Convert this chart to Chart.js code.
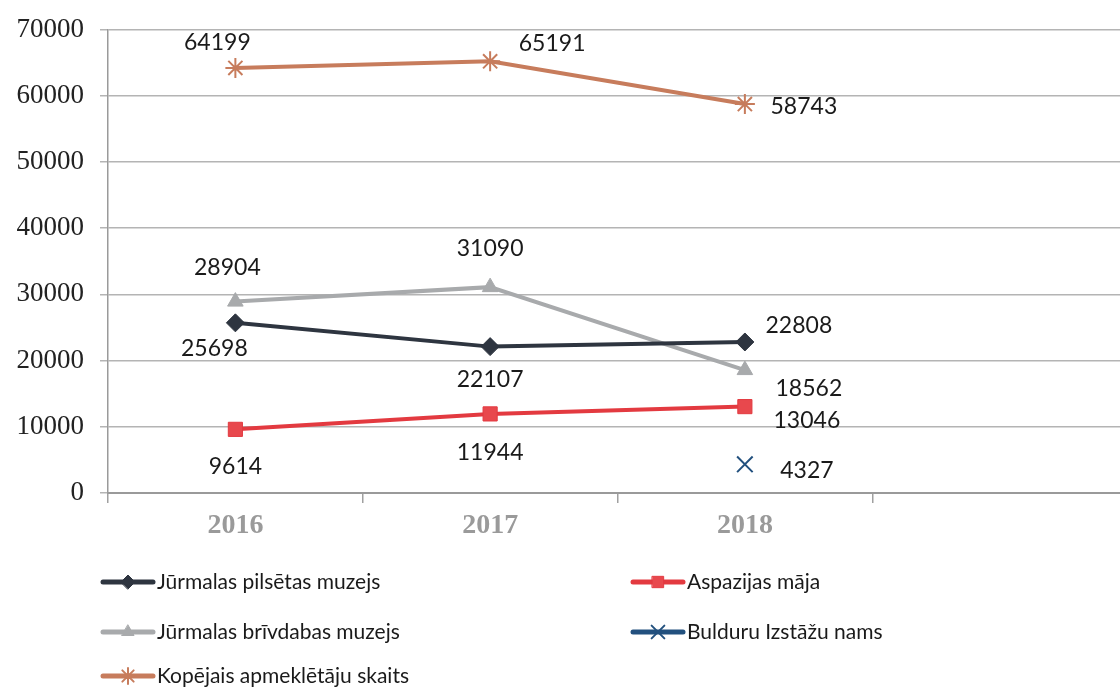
<!DOCTYPE html>
<html>
<head>
<meta charset="utf-8">
<script src="https://cdn.jsdelivr.net/npm/chart.js@4.4.1/dist/chart.umd.min.js"></script>
<style>
  html, body { margin: 0; padding: 0; background: #fff; overflow: hidden; }
  #wrap { width: 1140px; height: 688px; position: relative; }
  canvas { display: block; }
</style>
</head>
<body>
<div id="wrap"><canvas id="chart"></canvas></div>
<script>
// data
const years = ['2016', '2017', '2018', ''];
const pilsetasMuzejs = [25698, 22107, 22808];
const aspazijasMaja = [9614, 11944, 13046];
const brivdabasMuzejs = [28904, 31090, 18562];
const bulduruNams = [null, null, 4327];
const kopejais = [64199, 65191, 58743];
const yTicks = [0, 10000, 20000, 30000, 40000, 50000, 60000, 70000];

// label offsets (px from point) per dataset
const labelOffsets = [
    [[-21, 26], [0, 33], [54, -16]],
    [[0, 37], [0, 39], [62, 14]],
    [[-8, -34], [0, -39], [64, 18]],
    [[0, 0], [0, 0], [62, 6]],
    [[-18, -25], [62, -18], [59, 3]]
];

const labelFont = '23px Lato, "Open Sans", sans-serif';

// value labels next to points
const valueLabels = {
    id: 'valueLabels',
    afterDatasetsDraw(chart) {
        const ctx = chart.ctx;
        ctx.save();
        ctx.font = labelFont;
        ctx.fillStyle = '#1a1a1a';
        ctx.textAlign = 'center';
        ctx.textBaseline = 'middle';
        chart.data.datasets.forEach((ds, i) => {
            chart.getDatasetMeta(i).data.forEach((pt, j) => {
                const v = ds.data[j];
                if (v == null) return;
                const off = labelOffsets[i][j];
                ctx.fillText(String(v), pt.x + off[0], pt.y + off[1]);
            });
        });
        ctx.restore();
    }
};

// legend in two columns under the chart
const sideLegend = {
    id: 'sideLegend',
    afterDraw(chart) {
        const ctx = chart.ctx;
        const cols = [100, 630];
        const rows = [582, 632, 676];
        ctx.save();
        ctx.font = '21px Lato, "Open Sans", sans-serif';
        ctx.textBaseline = 'middle';
        ctx.textAlign = 'left';
        chart.data.datasets.forEach((ds, i) => {
            const x = cols[i % 2];
            const y = rows[Math.floor(i / 2)];
            ctx.strokeStyle = ds.borderColor;
            ctx.lineWidth = 5;
            ctx.lineCap = 'round';
            ctx.beginPath();
            ctx.moveTo(x + 3, y);
            ctx.lineTo(x + 53, y);
            ctx.stroke();
            ctx.fillStyle = ds.pointBackgroundColor;
            ctx.strokeStyle = ds.pointBorderColor;
            ctx.lineWidth = ds.pointBorderWidth;
            Chart.helpers.drawPoint(ctx, {
                pointStyle: ds.pointStyle,
                radius: ds.pointRadius - 2,
                borderWidth: ds.pointBorderWidth,
                rotation: 0
            }, x + 28, y);
            ctx.fillStyle = '#1a1a1a';
            ctx.fillText(ds.label, x + 57, y);
        });
        ctx.restore();
    }
};

function series(label, data, color, style, radius, fill, bw) {
    return {
        label: label,
        data: data,
        borderColor: color,
        backgroundColor: fill,
        borderWidth: 4,
        pointStyle: style,
        pointRadius: radius,
        pointHoverRadius: radius,
        pointBackgroundColor: fill,
        pointBorderColor: color,
        pointBorderWidth: bw,
        spanGaps: false,
        tension: 0
    };
}

const ctx = document.getElementById('chart');
new Chart(ctx, {
    type: 'line',
    data: {
        labels: years,
        datasets: [
            series('Jūrmalas pilsētas muzejs', pilsetasMuzejs, '#2e3540', 'rectRot', 9, '#2e3540', 1),
            series('Aspazijas māja', aspazijasMaja, '#e33a40', 'rect', 10, '#e8484d', 1),
            series('Jūrmalas brīvdabas muzejs', brivdabasMuzejs, '#a8aaac', 'triangle', 9, '#a8aaac', 1),
            series('Bulduru Izstāžu nams', bulduruNams, '#22507e', 'crossRot', 11, '#22507e', 2),
            series('Kopējais apmeklētāju skaits', kopejais, '#c77c5c', 'star', 10, '#c77c5c', 2)
        ]
    },
    options: {
        responsive: true,
        maintainAspectRatio: false,
        animation: false,
        layout: { padding: { top: 24, right: 0, left: 0, bottom: 0 } },
        plugins: {
            legend: { display: false },
            tooltip: { enabled: false }
        },
        scales: {
            x: {
                offset: true,
                grid: {
                    offset: true,
                    drawOnChartArea: false,
                    tickLength: 10,
                    color: '#a0a0a0',
                    lineWidth: 1.5
                },
                border: { color: '#9a9a9a', width: 2 },
                ticks: {
                    font: { family: '"Liberation Serif", serif', size: 28, weight: 'bold' },
                    color: '#9a9a9a',
                    padding: 6
                },
                afterFit: s => { s.height = 195; }
            },
            y: {
                min: 0,
                max: 70000,
                afterBuildTicks: s => { s.ticks = yTicks.map(v => ({ value: v })); },
                grid: { color: '#b4b4b4', lineWidth: 1.5, tickLength: 8 },
                border: { color: '#9a9a9a', width: 1.5 },
                ticks: {
                    font: { family: '"Liberation Serif", serif', size: 27, lineHeight: 1 },
                    color: '#222',
                    padding: 16,
                    callback: v => String(v)
                },
                afterFit: s => { s.width = 108; }
            }
        }
    },
    plugins: [valueLabels, sideLegend]
});
</script>
</body>
</html>
